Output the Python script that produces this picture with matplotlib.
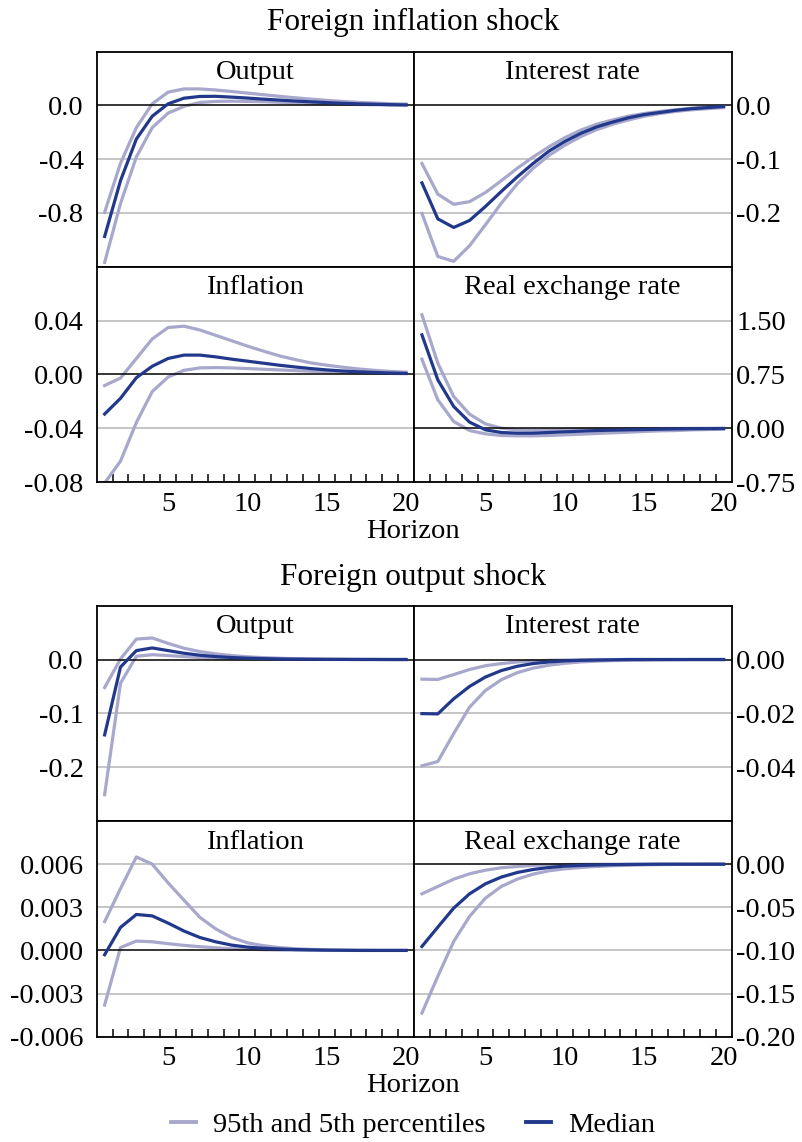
import matplotlib.pyplot as plt
import numpy as np

plt.rcParams['font.family'] = ['Liberation Serif', 'DejaVu Serif']
plt.rcParams['font.size'] = 20.5

horizon = np.arange(1, 21)

# Foreign inflation shock: median, 95th and 5th percentiles
fi_output_med = [-0.975, -0.56, -0.25, -0.08, 0.012, 0.054, 0.067, 0.068, 0.062, 0.055,
                 0.047, 0.040, 0.033, 0.027, 0.021, 0.016, 0.012, 0.009, 0.006, 0.004]
fi_output_hi = [-0.795, -0.43, -0.165, 0.012, 0.099, 0.123, 0.123, 0.115, 0.104, 0.092,
                0.080, 0.068, 0.057, 0.047, 0.038, 0.030, 0.023, 0.018, 0.013, 0.010]
fi_output_lo = [-1.168, -0.73, -0.383, -0.165, -0.057, -0.007, 0.022, 0.030, 0.032, 0.030,
                0.028, 0.024, 0.020, 0.016, 0.012, 0.009, 0.007, 0.005, 0.003, 0.002]

fi_rate_med = [-0.144, -0.211, -0.227, -0.214, -0.188, -0.160, -0.133, -0.108, -0.085, -0.067,
               -0.052, -0.040, -0.031, -0.023, -0.017, -0.013, -0.009, -0.006, -0.004, -0.002]
fi_rate_hi = [-0.108, -0.165, -0.184, -0.179, -0.162, -0.140, -0.117, -0.096, -0.077, -0.060,
              -0.046, -0.035, -0.027, -0.020, -0.015, -0.011, -0.008, -0.005, -0.003, -0.002]
fi_rate_lo = [-0.201, -0.281, -0.290, -0.261, -0.222, -0.182, -0.146, -0.117, -0.093, -0.074,
              -0.058, -0.045, -0.035, -0.027, -0.020, -0.015, -0.011, -0.008, -0.006, -0.004]

fi_infl_med = [-0.0295, -0.0178, -0.0025, 0.0060, 0.0118, 0.0143, 0.0143, 0.0130, 0.0113, 0.0098,
               0.0083, 0.0068, 0.0055, 0.0043, 0.0033, 0.0025, 0.0019, 0.0014, 0.0010, 0.0007]
fi_infl_hi = [-0.0083, -0.0028, 0.0118, 0.0263, 0.0348, 0.0358, 0.0330, 0.0290, 0.0250, 0.0210,
              0.0173, 0.0138, 0.0110, 0.0085, 0.0068, 0.0053, 0.0040, 0.0030, 0.0022, 0.0016]
fi_infl_lo = [-0.0808, -0.0645, -0.0358, -0.0128, -0.0020, 0.0030, 0.0048, 0.0050, 0.0048, 0.0043,
              0.0038, 0.0033, 0.0028, 0.0023, 0.0019, 0.0015, 0.0012, 0.0009, 0.0007, 0.0005]

fi_rer_med = [1.30, 0.673, 0.302, 0.084, -0.023, -0.060, -0.070, -0.070, -0.060, -0.051,
              -0.042, -0.033, -0.028, -0.023, -0.019, -0.014, -0.010, -0.008, -0.006, -0.005]
fi_rer_hi = [1.58, 0.906, 0.441, 0.195, 0.060, 0.000, -0.023, -0.028, -0.023, -0.019,
             -0.014, -0.012, -0.010, -0.008, -0.006, -0.005, -0.004, -0.003, -0.002, -0.001]
fi_rer_lo = [0.961, 0.395, 0.093, -0.033, -0.079, -0.102, -0.107, -0.107, -0.102, -0.093,
             -0.084, -0.074, -0.065, -0.056, -0.046, -0.037, -0.033, -0.023, -0.019, -0.014]

# Foreign output shock
fo_output_med = [-0.140, -0.014, 0.0166, 0.0215, 0.0166, 0.0117, 0.008, 0.0055, 0.0037, 0.0025,
                 0.0017, 0.0011, 0.0007, 0.0005, 0.0003, 0.0002, 0.0001, 0.0001, 0.0, 0.0]
fo_output_hi = [-0.052, 0.001, 0.038, 0.040, 0.030, 0.021, 0.0148, 0.0105, 0.0074, 0.005,
                0.0035, 0.0024, 0.0016, 0.001, 0.0007, 0.0005, 0.0003, 0.0002, 0.0001, 0.0001]
fo_output_lo = [-0.251, -0.044, 0.006, 0.009, 0.0074, 0.0055, 0.0037, 0.0025, 0.0017, 0.0011,
                0.0007, 0.0005, 0.0003, 0.0002, 0.0001, 0.0001, 0.0, 0.0, 0.0, 0.0]

fo_rate_med = [-0.0201, -0.0202, -0.0146, -0.0100, -0.0065, -0.0041, -0.0025, -0.0015, -0.0009, -0.0005,
               -0.0003, -0.0002, -0.0001, 0.0, 0.0, 0.0, 0.0, 0.0, 0.0, 0.0]
fo_rate_hi = [-0.0073, -0.0074, -0.0056, -0.0037, -0.0023, -0.0015, -0.0009, -0.0005, -0.0003, -0.0002,
              -0.0001, 0.0, 0.0, 0.0, 0.0, 0.0, 0.0, 0.0, 0.0, 0.0]
fo_rate_lo = [-0.0395, -0.0379, -0.0275, -0.0177, -0.0115, -0.0075, -0.0049, -0.0032, -0.0021, -0.0014,
              -0.0009, -0.0006, -0.0004, -0.0003, -0.0002, -0.0001, -0.0001, 0.0, 0.0, 0.0]

fo_infl_med = [-0.0003, 0.0016, 0.0025, 0.0024, 0.0019, 0.00135, 0.0009, 0.0006, 0.00037, 0.00023,
               0.00015, 0.0001, 0.00006, 0.00004, 0.00002, 0.00001, 0.0, 0.0, 0.0, 0.0]
fo_infl_hi = [0.0020, 0.0043, 0.0065, 0.0060, 0.0047, 0.0035, 0.0023, 0.0015, 0.0009, 0.00053,
              0.00033, 0.0002, 0.00012, 0.00007, 0.00004, 0.00002, 0.00001, 0.0, 0.0, 0.0]
fo_infl_lo = [-0.0038, 0.0002, 0.00065, 0.0006, 0.00047, 0.00035, 0.00026, 0.00018, 0.00012, 0.00008,
              0.00005, 0.00003, 0.00002, 0.00001, 0.0, 0.0, 0.0, 0.0, 0.0, 0.0]

fo_rer_med = [-0.0954, -0.073, -0.051, -0.0344, -0.0228, -0.015, -0.0097, -0.0062, -0.0039, -0.0023,
              -0.0015, -0.001, -0.0006, -0.0004, -0.0002, -0.0001, -0.0001, -0.0001, -0.0001, -0.0001]
fo_rer_hi = [-0.0344, -0.0259, -0.0174, -0.0112, -0.007, -0.0042, -0.0027, -0.0015, -0.0009, -0.0005,
             -0.0003, -0.0002, -0.0001, -0.0001, -0.0001, 0.0, 0.0, 0.0, 0.0, 0.0]
fo_rer_lo = [-0.1726, -0.130, -0.0896, -0.0606, -0.0394, -0.0259, -0.0174, -0.0116, -0.0077, -0.0054,
             -0.0039, -0.0027, -0.0018, -0.0012, -0.0008, -0.0005, -0.0003, -0.0002, -0.0001, -0.0001]

band_color = '#a8a7cc'
med_color = '#22398b'
W, H = 802, 1142


def rect(x0, y0, x1, y1):
    # pixel box -> figure fraction
    return [x0 / W, 1 - y1 / H, (x1 - x0) / W, (y1 - y0) / H]


def panel(fig, box, title, lo, med, hi, ylim, yticks, ndec, side, bottom):
    ax = fig.add_axes(rect(*box))
    ax.set_xlim(0.5, 20.5)
    ax.set_ylim(*ylim)
    for t in yticks:
        if t == 0:
            ax.axhline(t, color='black', lw=1.1, zorder=3)
        else:
            ax.axhline(t, color='#b5b5b5', lw=1.1, zorder=1)
    ax.plot(horizon, hi, color=band_color, lw=2.3, zorder=2)
    ax.plot(horizon, lo, color=band_color, lw=2.3, zorder=2)
    ax.plot(horizon, med, color=med_color, lw=2.3, zorder=4)
    ax.text(0.5, 1 - 21 / 215, title, transform=ax.transAxes, ha='center', va='center')

    ax.set_yticks(yticks)
    ax.set_yticklabels([f'{t:.{ndec}f}' for t in yticks])
    if side == 'left':
        ax.tick_params(axis='y', length=0, pad=9.5, labelleft=True, labelright=False)
    else:
        ax.tick_params(axis='y', length=0, pad=3.5, labelleft=False, labelright=True)

    ax.set_xticks([5, 10, 15, 20])
    ax.tick_params(axis='x', length=0, pad=7, labelbottom=bottom)
    if bottom:
        ax.set_xticks(np.arange(1.5, 20, 1), minor=True)
        ax.tick_params(axis='x', which='minor', direction='in', length=6, width=1.1, color='black')
    for s in ax.spines.values():
        s.set_linewidth(1.3)
    return ax


fig = plt.figure(figsize=(W / 100, H / 100), dpi=100)

L, M, R = 96.7, 414, 731.5

# Block 1
fig.text(413 / W, 1 - 22 / H, 'Foreign inflation shock', ha='center', va='center', fontsize=22.5)
panel(fig, (L, 51.7, M, 266.7), 'Output', fi_output_lo, fi_output_med, fi_output_hi,
      (-1.2, 0.4), [-0.8, -0.4, 0.0], 1, 'left', False)
panel(fig, (M, 51.7, R, 266.7), 'Interest rate', fi_rate_lo, fi_rate_med, fi_rate_hi,
      (-0.3, 0.1), [-0.2, -0.1, 0.0], 1, 'right', False)
panel(fig, (L, 266.7, M, 482), 'Inflation', fi_infl_lo, fi_infl_med, fi_infl_hi,
      (-0.08, 0.08), [-0.08, -0.04, 0.0, 0.04], 2, 'left', True)
panel(fig, (M, 266.7, R, 482), 'Real exchange rate', fi_rer_lo, fi_rer_med, fi_rer_hi,
      (-0.75, 2.25), [-0.75, 0.0, 0.75, 1.5], 2, 'right', True)
fig.text(413 / W, 1 - 532 / H, 'Horizon', ha='center', va='center')

# Block 2
fig.text(413 / W, 1 - 578 / H, 'Foreign output shock', ha='center', va='center', fontsize=22.5)
panel(fig, (L, 605.7, M, 821), 'Output', fo_output_lo, fo_output_med, fo_output_hi,
      (-0.3, 0.1), [-0.2, -0.1, 0.0], 1, 'left', False)
panel(fig, (M, 605.7, R, 821), 'Interest rate', fo_rate_lo, fo_rate_med, fo_rate_hi,
      (-0.06, 0.02), [-0.04, -0.02, 0.0], 2, 'right', False)
panel(fig, (L, 821, M, 1036.7), 'Inflation', fo_infl_lo, fo_infl_med, fo_infl_hi,
      (-0.006, 0.009), [-0.006, -0.003, 0.0, 0.003, 0.006], 3, 'left', True)
panel(fig, (M, 821, R, 1036.7), 'Real exchange rate', fo_rer_lo, fo_rer_med, fo_rer_hi,
      (-0.2, 0.05), [-0.2, -0.15, -0.1, -0.05, 0.0], 2, 'right', True)
fig.text(413 / W, 1 - 1086 / H, 'Horizon', ha='center', va='center')

# Legend
h1, = plt.plot([], [], color=band_color, lw=2.8)
h2, = plt.plot([], [], color=med_color, lw=2.8)
fig.legend([h1, h2], ['95th and 5th percentiles', 'Median'], loc='center',
           bbox_to_anchor=(413 / W, 1 - 1125 / H), ncol=2, frameon=False,
           handlelength=0.9, handletextpad=0.6, columnspacing=1.4)

fig.savefig('out.png', dpi=100)
